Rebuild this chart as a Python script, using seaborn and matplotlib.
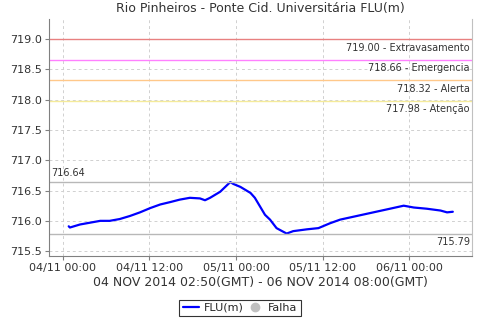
import matplotlib
matplotlib.use("Agg")
import matplotlib.pyplot as plt
import matplotlib.dates as mdates
from matplotlib.lines import Line2D
import seaborn as sns
import pandas as pd

title = "Rio Pinheiros - Ponte Cid. Universitária FLU(m)"
xlabel = "04 NOV 2014 02:50(GMT) - 06 NOV 2014 08:00(GMT)"

times = ["2014-11-04 00:50", "2014-11-04 01:00", "2014-11-04 02:24", "2014-11-04 05:12",
         "2014-11-04 06:30", "2014-11-04 07:54", "2014-11-04 09:18", "2014-11-04 10:42",
         "2014-11-04 12:06", "2014-11-04 13:30", "2014-11-04 14:54", "2014-11-04 16:12",
         "2014-11-04 17:36", "2014-11-04 19:00", "2014-11-04 19:42", "2014-11-04 20:24",
         "2014-11-04 21:48", "2014-11-04 23:12", "2014-11-04 23:36", "2014-11-05 00:36",
         "2014-11-05 02:00", "2014-11-05 02:36", "2014-11-05 03:18", "2014-11-05 04:00",
         "2014-11-05 04:42", "2014-11-05 05:36", "2014-11-05 07:00", "2014-11-05 07:54",
         "2014-11-05 09:48", "2014-11-05 11:24", "2014-11-05 13:00", "2014-11-05 14:24",
         "2014-11-05 16:42", "2014-11-05 19:00", "2014-11-05 21:18", "2014-11-05 23:12",
         "2014-11-06 00:36", "2014-11-06 02:24", "2014-11-06 04:18", "2014-11-06 05:12",
         "2014-11-06 06:00"]
flu = [715.91, 715.89, 715.94, 716.00, 716.00, 716.03, 716.08, 716.14,
       716.21, 716.27, 716.31, 716.35, 716.38, 716.37, 716.34, 716.38,
       716.48, 716.64, 716.61, 716.56, 716.46, 716.38, 716.24, 716.10,
       716.02, 715.88, 715.79, 715.83, 715.86, 715.88, 715.96, 716.02,
       716.08, 716.14, 716.20, 716.25, 716.22, 716.20, 716.17, 716.14,
       716.15]

levels = [719.00, 718.66, 718.32, 717.98]
level_names = ["Extravasamento", "Emergencia", "Alerta", "Atenção"]
level_colors = ["#e88080", "#ff80ff", "#ffc88a", "#f5eb9a"]
max_val = 716.64
min_val = 715.79

df = pd.DataFrame({"time": pd.to_datetime(times), "FLU(m)": flu})

sns.set_style("white")
plt.rcParams['font.family'] = ['DejaVu Sans']

fig = plt.figure(figsize=(4.8, 3.2), dpi=100)
ax = fig.add_axes([0.102, 0.2, 0.881, 0.7406])

sns.lineplot(data=df, x="time", y="FLU(m)", ax=ax, color="#0000ff", linewidth=1.6)

ax.set_xlim(pd.Timestamp("2014-11-03 22:06"), pd.Timestamp("2014-11-06 08:38"))
ax.set_ylim(715.42, 719.33)
ax.set_yticks([715.5, 716.0, 716.5, 717.0, 717.5, 718.0, 718.5, 719.0])
ax.yaxis.set_major_formatter(matplotlib.ticker.FormatStrFormatter("%.1f"))
ax.set_xticks(pd.to_datetime(["2014-11-04 00:00", "2014-11-04 12:00", "2014-11-05 00:00",
                              "2014-11-05 12:00", "2014-11-06 00:00"]))
ax.xaxis.set_major_formatter(mdates.DateFormatter("%d/%m %H:%M"))

ax.grid(True, color="#d0d0d0", linestyle=(0, (3, 3)), linewidth=0.7)
ax.set_axisbelow(True)
for s in ["top"]:
    ax.spines[s].set_visible(False)
ax.spines["left"].set_color("#808080")
ax.spines["bottom"].set_color("#808080")
ax.spines["right"].set_color("#c0c0c0")
ax.tick_params(axis="both", which="both", labelsize=8, length=3, color="#808080",
               direction="out", left=True, bottom=True, pad=2, labelcolor="#333333")

trans = ax.get_yaxis_transform()
for v, n, c in zip(levels, level_names, level_colors):
    ax.axhline(v, color=c, linewidth=1.0, zorder=2)
    ax.text(0.995, v - 0.06, f"{v:.2f} - {n}", transform=trans, ha="right", va="top",
            fontsize=7, color="#333333")

ax.axhline(max_val, color="#b8b8b8", linewidth=1.0, zorder=2)
ax.text(0.005, max_val + 0.06, f"{max_val:.2f}", transform=trans, ha="left", va="bottom",
        fontsize=7, color="#333333")
ax.axhline(min_val, color="#b8b8b8", linewidth=1.0, zorder=2)
ax.text(0.995, min_val - 0.06, f"{min_val:.2f}", transform=trans, ha="right", va="top",
        fontsize=7, color="#333333")

ax.set_xlabel(xlabel, fontsize=9, color="#333333", labelpad=2)
ax.set_ylabel("")
ax.set_title(title, fontsize=9, color="#333333", pad=5)

handles = [Line2D([0], [0], color="#0000ff", linewidth=1.6),
           Line2D([0], [0], marker="o", color="none", markerfacecolor="#c0c0c0",
                  markeredgecolor="#c0c0c0", markersize=6)]
leg = fig.legend(handles, ["FLU(m)", "Falha"], loc="center", bbox_to_anchor=(0.5, 0.038),
                 ncol=2, fontsize=8, frameon=True, fancybox=False, handlelength=1.5,
                 handletextpad=0.4, columnspacing=0.3, borderpad=0.3)
leg.get_frame().set_edgecolor("black")
leg.get_frame().set_linewidth(0.8)

fig.savefig("out.png", dpi=100)
